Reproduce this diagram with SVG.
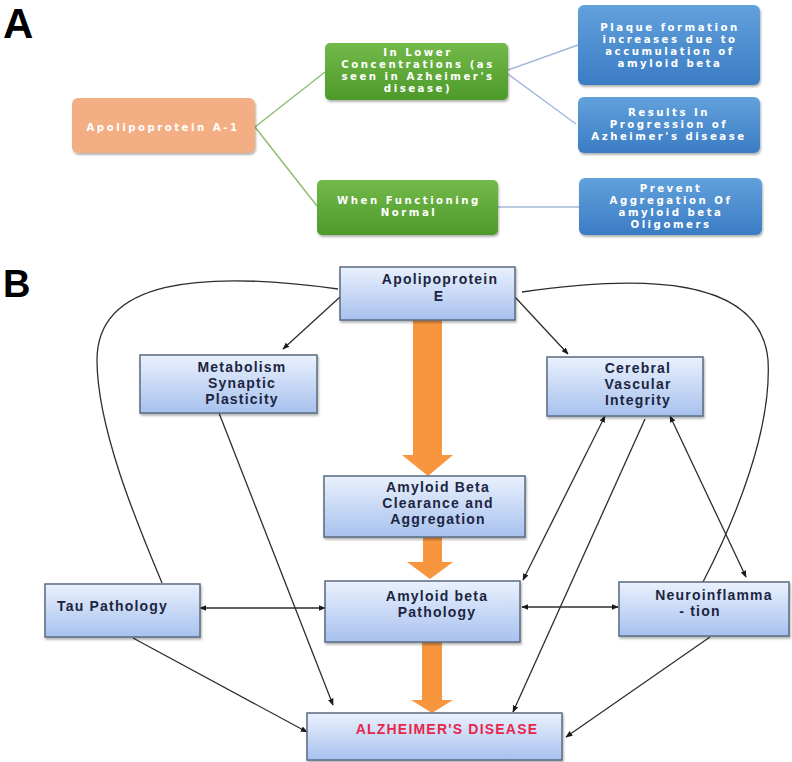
<svg xmlns="http://www.w3.org/2000/svg" width="792" height="762" viewBox="0 0 792 762">
<style>
.lbl{font-family:"Liberation Sans",Arial,sans-serif;font-weight:bold;fill:#000}
.ta{font-family:"DejaVu Sans","Liberation Sans",sans-serif;font-weight:bold;font-size:10.2px;letter-spacing:2.5px;fill:#fff;text-anchor:middle}
.tb{font-family:"Liberation Sans",Arial,sans-serif;font-weight:bold;font-size:14px;letter-spacing:1.2px;fill:#1c2541;text-anchor:middle}
.bx{fill:url(#gb);stroke:#5a6a80;stroke-width:1.5;filter:url(#sh)}
.conA{fill:none;stroke-width:1.5}
.con{fill:none;stroke:#2e2e2e;stroke-width:1.3}
.ar{marker-end:url(#ah)}
.dbl{marker-start:url(#ah);marker-end:url(#ah)}
.orange{fill:#f7963f}
</style>
<defs>
<linearGradient id="gb" x1="0" y1="0" x2="0" y2="1">
<stop offset="0" stop-color="#eaf1fd"/><stop offset="1" stop-color="#a7c1ee"/>
</linearGradient>
<linearGradient id="gg" x1="0" y1="0" x2="0" y2="1">
<stop offset="0" stop-color="#73b94a"/><stop offset="1" stop-color="#4d9a2a"/>
</linearGradient>
<linearGradient id="gbl" x1="0" y1="0" x2="0" y2="1">
<stop offset="0" stop-color="#62a1dc"/><stop offset="1" stop-color="#3b7cc4"/>
</linearGradient>
<filter id="sh" x="-10%" y="-10%" width="130%" height="140%">
<feDropShadow dx="1" dy="2" stdDeviation="1.2" flood-color="#000" flood-opacity="0.3"/>
</filter>
<marker id="ah" viewBox="0 0 10 10" refX="9" refY="5" markerWidth="7" markerHeight="7" markerUnits="userSpaceOnUse" orient="auto-start-reverse">
<path d="M0,1 L10,5 L0,9 Z" fill="#1a1a1a"/>
</marker>
</defs>
<rect width="792" height="762" fill="#fff"/>

<text class="lbl" x="3" y="38" font-size="42">A</text>
<text class="lbl" x="3" y="297" font-size="38">B</text>

<!-- Panel A connectors -->
<g id="connectors-A">
<path class="conA" stroke="#8fbf72" d="M255,127 L325,72"/>
<path class="conA" stroke="#8fbf72" d="M255,127 L317,206"/>
<path class="conA" stroke="#a3b9d9" d="M508,70 L578,45"/>
<path class="conA" stroke="#a3b9d9" d="M508,74 L576,124"/>
<path class="conA" stroke="#a3b9d9" d="M498,207 L579,207"/>
</g>

<g id="apoA1">
<rect x="72" y="98" width="183" height="55" rx="6" fill="#f4ae83" filter="url(#sh)"/>
<text class="ta" x="163" y="131">Apolipoprotein A-1</text>
</g>
<g id="lower-conc">
<rect x="325" y="43" width="183" height="57" rx="5" fill="url(#gg)" filter="url(#sh)"/>
<text class="ta" x="418" y="56">In Lower</text>
<text class="ta" x="418" y="68">Concentrations (as</text>
<text class="ta" x="418" y="80">seen in Azheimer's</text>
<text class="ta" x="418" y="92">disease)</text>
</g>
<g id="normal">
<rect x="317" y="180" width="181" height="55" rx="5" fill="url(#gg)" filter="url(#sh)"/>
<text class="ta" x="409" y="204">When Functioning</text>
<text class="ta" x="409" y="216">Normal</text>
</g>
<g id="plaque">
<rect x="578" y="5" width="182" height="80" rx="6" fill="url(#gbl)" filter="url(#sh)"/>
<text class="ta" x="670" y="31">Plaque formation</text>
<text class="ta" x="670" y="43">increases due to</text>
<text class="ta" x="670" y="55">accumulation of</text>
<text class="ta" x="670" y="67">amyloid beta</text>
</g>
<g id="progression">
<rect x="578" y="97" width="182" height="56" rx="6" fill="url(#gbl)" filter="url(#sh)"/>
<text class="ta" x="669" y="116">Results In</text>
<text class="ta" x="669" y="128">Progression of</text>
<text class="ta" x="669" y="140">Azheimer's disease</text>
</g>
<g id="prevent">
<rect x="579" y="178" width="183" height="57" rx="6" fill="url(#gbl)" filter="url(#sh)"/>
<text class="ta" x="671" y="192">Prevent</text>
<text class="ta" x="671" y="204">Aggregation Of</text>
<text class="ta" x="671" y="216">amyloid beta</text>
<text class="ta" x="671" y="228">Oligomers</text>
</g>

<!-- Panel B connectors -->
<g id="connectors-B">
<path class="con" d="M338,289 C200,270 97,280 97,360 C97,430 140,530 162,583"/>
<path class="con" d="M522,292 C640,275 760,275 768,360 C772,430 735,520 703,582"/>
<path class="con ar" d="M340,297 L283,349"/>
<path class="con ar" d="M515,297 L568,354"/>
<path class="con ar" d="M219,413 L333,705"/>
<path class="con ar" d="M133,638 L307,732"/>
<path class="con dbl" d="M200,608 L325,608"/>
<path class="con dbl" d="M605,416 L523,580"/>
<path class="con ar" d="M645,419 L513,712"/>
<path class="con dbl" d="M670,416 L746,577"/>
<path class="con dbl" d="M522,607 L618,607"/>
<path class="con ar" d="M710,637 L566,737"/>
<polygon class="orange" points="413,320 442,320 442,455 453,455 428,476 402,455 413,455"/>
<polygon class="orange" points="423,537 442,537 442,562 453,562 430,579 407,562 423,562"/>
<polygon class="orange" points="422,642 442,642 442,700 453,700 432,713 411,700 422,700"/>
</g>

<g id="apoE">
<rect class="bx" x="340" y="267" width="175" height="53"/>
<text class="tb" x="440" y="284">Apolipoprotein</text>
<text class="tb" x="439" y="301">E</text>
</g>
<g id="metabolism">
<rect class="bx" x="140" y="355" width="177" height="58"/>
<text class="tb" x="242" y="372">Metabolism</text>
<text class="tb" x="242" y="388">Synaptic</text>
<text class="tb" x="242" y="404">Plasticity</text>
</g>
<g id="cerebral">
<rect class="bx" x="547" y="357" width="156" height="59"/>
<text class="tb" x="638" y="373">Cerebral</text>
<text class="tb" x="638" y="389">Vascular</text>
<text class="tb" x="638" y="405">Integrity</text>
</g>
<g id="clearance">
<rect class="bx" x="324" y="476" width="201" height="61"/>
<text class="tb" x="438" y="492">Amyloid Beta</text>
<text class="tb" x="438" y="508">Clearance and</text>
<text class="tb" x="438" y="524">Aggregation</text>
</g>
<g id="abpath">
<rect class="bx" x="325" y="581" width="195" height="61"/>
<text class="tb" x="437" y="601">Amyloid beta</text>
<text class="tb" x="437" y="617">Pathology</text>
</g>
<g id="tau">
<rect class="bx" x="45" y="584" width="155" height="53"/>
<text class="tb" x="57" y="611" style="text-anchor:start">Tau Pathology</text>
</g>
<g id="neuro">
<rect class="bx" x="619" y="582" width="170" height="54"/>
<text class="tb" x="714" y="600">Neuroinflamma</text>
<text class="tb" x="700" y="616">- tion</text>
</g>
<g id="alzheimer">
<rect class="bx" x="307" y="713" width="255" height="47"/>
<text class="tb" x="447" y="734" style="fill:#e8264a">ALZHEIMER'S DISEASE</text>
</g>
</svg>
